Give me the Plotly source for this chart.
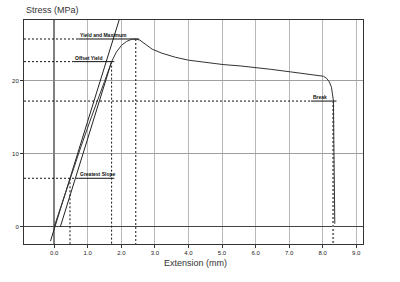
import plotly.graph_objects as go

# ---- data ----
curve_x = [0.0, 0.2, 0.47, 0.8, 1.1, 1.3, 1.5, 1.71, 1.85, 2.0, 2.15, 2.3, 2.43, 2.55, 2.63,
           2.75, 2.92, 3.21, 3.61, 4.0, 4.59, 5.03, 5.57, 6.0, 6.45, 7.04, 7.63, 8.02, 8.12,
           8.2, 8.26, 8.3, 8.32, 8.33, 8.34, 8.34, 8.36]
curve_y = [0.0, 2.8, 6.63, 11.0, 14.9, 17.3, 19.9, 22.6, 23.9, 24.8, 25.35, 25.65, 25.7, 25.55,
           25.3, 24.85, 24.3, 23.75, 23.2, 22.8, 22.4, 22.2, 22.0, 21.8, 21.55, 21.2, 20.9,
           20.6, 20.3, 19.8, 19.1, 18.0, 17.2, 12.0, 5.0, 1.0, 0.4]

mark_names = ["Greatest Slope", "Offset Yield", "Yield and Maximum", "Break"]
mark_x = [0.47, 1.71, 2.43, 8.31]
mark_y = [6.63, 22.6, 25.7, 17.2]
label_start = [0.715, 0.57, 0.715, 7.65]
label_end = [1.79, 1.79, 2.53, 8.41]

greatest_slope = 14.8  # MPa per mm

x_ticks = [0, 1, 2, 3, 4, 5, 6, 7, 8, 9]
y_ticks = [0, 10, 20]

X0, X1 = -0.9, 9.2
Y0, Y1 = -2.37, 28.3

fig = go.Figure()

# tangent (greatest slope) line
gs_x, gs_y = mark_x[0], mark_y[0]
t_x0 = gs_x - gs_y / greatest_slope
ta = [t_x0 + (Y0 + 0.4) / greatest_slope, t_x0 + (Y1 + 1) / greatest_slope]
fig.add_trace(go.Scatter(x=ta, y=[greatest_slope * (v - t_x0) for v in ta], mode="lines",
                         line=dict(color="#222", width=1), hoverinfo="skip"))
# offset line through offset-yield point, parallel to tangent
o_x0 = mark_x[1] - mark_y[1] / greatest_slope
fig.add_trace(go.Scatter(x=[o_x0, mark_x[1]], y=[0, mark_y[1]], mode="lines",
                         line=dict(color="#222", width=1), hoverinfo="skip"))

# reference lines for key points
for i, name in enumerate(mark_names):
    is_break = name == "Break"
    # horizontal dashed to label
    fig.add_trace(go.Scatter(x=[X0, label_start[i]], y=[mark_y[i], mark_y[i]], mode="lines",
                             line=dict(color="#111", width=1, dash="2px,2px"), hoverinfo="skip"))
    # solid underline
    fig.add_trace(go.Scatter(x=[label_start[i], label_end[i]], y=[mark_y[i], mark_y[i]], mode="lines",
                             line=dict(color="#111", width=1), hoverinfo="skip"))
    # vertical dashed down to bottom
    fig.add_trace(go.Scatter(x=[mark_x[i], mark_x[i]], y=[mark_y[i], Y0], mode="lines",
                             line=dict(color="#777" if is_break else "#111",
                                       width=2 if is_break else 1, dash="2px,2px"),
                             hoverinfo="skip"))
    fig.add_annotation(x=label_start[i], y=mark_y[i], text="<b>" + name + "</b>",
                       showarrow=False, xanchor="left", yanchor="bottom", yshift=-1,
                       font=dict(family="Liberation Sans, Arial", size=5, color="#111"))

# main curve
fig.add_trace(go.Scatter(x=curve_x, y=curve_y, mode="lines",
                         line=dict(color="#333", width=1), hoverinfo="skip"))

fig.update_layout(
    width=400, height=282, showlegend=False,
    margin=dict(l=20, r=37, t=20, b=38),
    paper_bgcolor="white", plot_bgcolor="white",
    font=dict(family="Liberation Sans, Arial", color="#222"),
    xaxis=dict(range=[X0, X1], tickvals=x_ticks, ticktext=[f"{v:.1f}" for v in x_ticks],
               showgrid=True, gridcolor="#b8b8b8", gridwidth=1,
               zeroline=True, zerolinecolor="#808080", zerolinewidth=1.5,
               showline=True, linecolor="#333", linewidth=1, mirror=True,
               ticks="outside", ticklen=3, tickcolor="#333",
               tickfont=dict(size=6, color="#222")),
    yaxis=dict(range=[Y0, Y1], tickvals=y_ticks,
               showgrid=True, gridcolor="#a0a0a0", gridwidth=1,
               zeroline=True, zerolinecolor="#444", zerolinewidth=1,
               showline=True, linecolor="#333", linewidth=1, mirror=True,
               ticks="outside", ticklen=3, tickcolor="#333",
               tickfont=dict(size=6, color="#222")),
)
fig.add_annotation(x=0, y=1, xref="paper", yref="paper", xanchor="left", yanchor="bottom",
                   yshift=3, text="Stress (MPa)", showarrow=False,
                   font=dict(size=9, color="#333"))
fig.add_annotation(x=0.5, y=0, xref="paper", yref="paper", xanchor="center", yanchor="top",
                   yshift=-12, xshift=2, text="Extension (mm)", showarrow=False,
                   font=dict(size=9, color="#333"))

fig.write_html("out.html")
